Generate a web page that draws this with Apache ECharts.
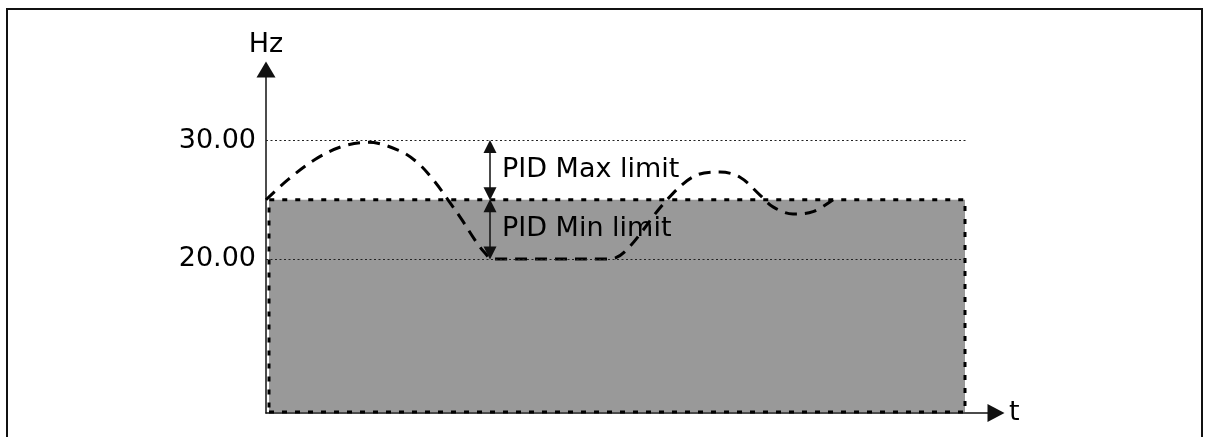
<!DOCTYPE html>
<html>
<head>
<meta charset="utf-8">
<title>PID limits</title>
<script src="https://cdn.jsdelivr.net/npm/echarts@6/dist/echarts.min.js"></script>
<style>
  body { margin: 0; background: #fff; }
  #main { position: absolute; left: 0; top: 0; width: 1213px; height: 437px; }
  .frame { position: absolute; left: 6px; top: 8px; width: 1193px; height: 440px;
           border: 2px solid #111; border-bottom: none; pointer-events: none; }
</style>
</head>
<body>
<div class="frame"></div>
<div id="main"></div>
<script>
  // signal (dashed curve), x in time units, y in Hz
  var sigX = [0, 2.2, 4.9, 7.6, 10.2, 13.2, 15.2, 16.9, 18.2, 19.6, 20.9, 21.9, 22.6, 34.4, 36.1, 40.1, 43.1, 45.4, 47.4, 49.4, 50.7, 52.7, 54.7, 56.7];
  var sigY = [25, 26.7, 28.4, 29.5, 29.85, 29.2, 28.1, 26.5, 25.0, 23.3, 21.6, 20.5, 20, 20, 20.8, 25.0, 27.1, 27.35, 26.9, 25.4, 24.4, 23.8, 24.0, 25];

  // reference levels and grey area
  var tickValues = [20, 30];
  var setpoint = 25;
  var areaX = [0.3, 69.9];
  var gridEndX = 70;
  var xRange = [0, 73];
  var yRange = [7, 36];

  // PID limit arrows
  var pidX = 22.4;
  var pidMax = [30, 25];
  var pidMin = [25, 20];
  var pidLabels = ['PID Max limit', 'PID Min limit'];

  var font = 'DejaVu Sans';
  var fs = 27;
  var inset = 0.5; // half arrow head, in Hz

  var signal = sigX.map(function (x, i) { return [x, sigY[i]]; });

  var dotted = { color: '#222', width: 1, type: [2, 2.5] };
  var arrowStyle = { color: '#111', width: 1.5, type: 'solid' };

  function arrowLine(pair) {
    return [
      { coord: [pidX, pair[0] - inset], symbol: 'triangle', lineStyle: arrowStyle },
      { coord: [pidX, pair[1] + inset], symbol: 'triangle' }
    ];
  }

  var chart = echarts.init(document.getElementById('main'));
  var option = {
    animation: false,
    textStyle: { fontFamily: font },
    grid: { left: 266, right: 217, top: 69.5, bottom: 24 },
    xAxis: {
      type: 'value', min: xRange[0], max: xRange[1],
      name: 't', nameLocation: 'end', nameGap: 13,
      nameTextStyle: { fontSize: fs, color: '#000', fontFamily: font },
      axisLine: { show: true, symbol: ['none', 'triangle'], symbolSize: [18, 17],
                  lineStyle: { color: '#111', width: 1.5 } },
      axisTick: { show: false }, axisLabel: { show: false }, splitLine: { show: false }
    },
    yAxis: {
      type: 'value', min: yRange[0], max: yRange[1],
      name: 'Hz', nameLocation: 'end', nameGap: 11,
      nameTextStyle: { fontSize: fs, color: '#000', fontFamily: font },
      axisLine: { show: true, symbol: ['none', 'triangle'], symbolSize: [19, 16],
                  lineStyle: { color: '#111', width: 1.5 } },
      axisTick: { show: false, customValues: tickValues },
      axisLabel: { customValues: tickValues, margin: 10, fontSize: fs, color: '#000', fontFamily: font,
                   formatter: function (v) { return v.toFixed(2); } },
      splitLine: { show: false }
    },
    series: [
      {
        type: 'line',
        data: signal,
        smooth: 0.35,
        showSymbol: false,
        z: 3,
        lineStyle: { color: '#000', width: 3, type: [12, 8] }
      },
      {
        type: 'scatter',
        data: [[pidX, (pidMax[0] + pidMax[1]) / 2, pidLabels[0]],
               [pidX, (pidMin[0] + pidMin[1]) / 2, pidLabels[1]]],
        symbolSize: 0,
        z: 4,
        itemStyle: { opacity: 1 },
        label: { show: true, position: 'right', distance: 12, fontSize: fs, color: '#000', opacity: 1,
                 fontFamily: font, formatter: function (p) { return p.data[2]; } },
        markArea: {
          silent: true,
          itemStyle: { color: '#999999', borderColor: '#000', borderWidth: 3, borderType: [5, 8] },
          data: [[{ coord: [areaX[0], yRange[0] + 0.08] }, { coord: [areaX[1], setpoint] }]]
        },
        markLine: {
          silent: true,
          symbol: ['none', 'none'],
          symbolSize: 13,
          label: { show: false },
          data: [
            [{ coord: [0, tickValues[1]], lineStyle: dotted }, { coord: [gridEndX, tickValues[1]] }],
            [{ coord: [0, tickValues[0]], lineStyle: dotted }, { coord: [gridEndX, tickValues[0]] }],
            arrowLine(pidMax),
            arrowLine(pidMin)
          ]
        }
      }
    ]
  };
  chart.setOption(option);
</script>
</body>
</html>
